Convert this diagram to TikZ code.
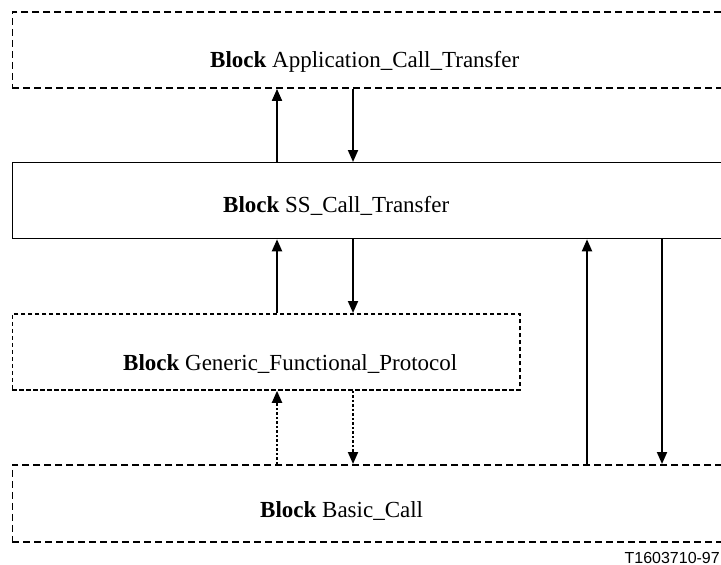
\documentclass[tikz,border=0pt]{standalone}
\usepackage{fontspec}
\setmainfont{Liberation Serif}
\newfontfamily\labelfont{Liberation Sans}
\usetikzlibrary{arrows.meta}
\begin{document}
\begin{tikzpicture}[x=1pt,y=-1pt,
  blockbox/.style={rectangle,inner sep=0pt,anchor=north west,minimum height=76pt},
  longdash/.style={draw,line width=1.9pt,dash pattern=on 7pt off 4pt},
  shortdash/.style={draw,line width=1.8pt,dash pattern=on 4.5pt off 2.5pt},
  solidbox/.style={draw,line width=1.3pt},
  blocktext/.style={anchor=base west,inner sep=0pt,font=\fontsize{23}{26}\selectfont},
  arr/.style={line width=1.9pt,-{Triangle[length=12pt,width=10pt]}},
  dotarr/.style={arr,dash pattern=on 2.5pt off 2pt}]
\useasboundingbox (0,0) rectangle (721,565);
\clip (0,0) rectangle (721,565);
% boxes
\node[blockbox,longdash,minimum width=740pt] (app) at (11.5,11) {};
\node[blockbox,solidbox,minimum width=740pt] (ss) at (11.5,162) {};
\node[blockbox,shortdash,minimum width=507.5pt] (gfp) at (11.5,313) {};
\node[blockbox,longdash,minimum width=740pt,minimum height=77pt] (bc) at (11.5,464) {};
% texts
\node[blocktext] (appt) at (210,67) {\textbf{Block} Application\_Call\_Transfer};
\node[blocktext] (sst) at (223,212) {\textbf{Block} SS\_Call\_Transfer};
\node[blocktext] (gfpt) at (123,370) {\textbf{Block} Generic\_Functional\_Protocol};
\node[blocktext] (bct) at (260,517) {\textbf{Block} Basic\_Call};
\node[anchor=base east,inner sep=0pt,font=\labelfont\fontsize{16}{18}\selectfont] (code) at (720,563) {T1603710-97};
% arrow columns
\coordinate (xa) at (277,0);
\coordinate (xb) at (353,0);
\coordinate (xc) at (587,0);
\coordinate (xd) at (662,0);
% connectors
\draw[arr] (ss.north -| xa) -- (app.south -| xa);
\draw[arr] (app.south -| xb) -- (ss.north -| xb);
\draw[arr] (gfp.north -| xa) -- (ss.south -| xa);
\draw[arr] (ss.south -| xb) -- (gfp.north -| xb);
\draw[dotarr] (bc.north -| xa) -- (gfp.south -| xa);
\draw[dotarr] (gfp.south -| xb) -- (bc.north -| xb);
\draw[arr] (bc.north -| xc) -- (ss.south -| xc);
\draw[arr] (ss.south -| xd) -- (bc.north -| xd);
\end{tikzpicture}
\end{document}
